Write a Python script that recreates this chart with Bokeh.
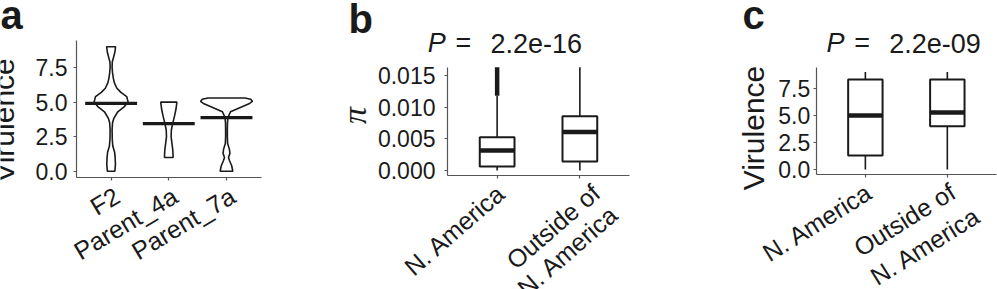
import math
from bokeh.plotting import figure
from bokeh.layouts import row
from bokeh.models import Label, FixedTicker, Range1d, PrintfTickFormatter, CustomJSTickFormatter
from bokeh.embed import file_html
from bokeh.resources import INLINE

# ---------------- data ----------------
a_categories = ["F2", "Parent_4a", "Parent_7a"]
f2_levels = [0.0, 0.5, 1.0, 1.4, 1.8, 2.3, 3.0, 3.5, 3.8, 4.3, 4.65, 5.0, 5.4, 5.7, 6.0, 6.4, 6.7, 7.1, 7.5, 7.9, 8.2, 8.6, 9.0]
f2_half = [0.065, 0.075, 0.07, 0.06, 0.03, 0.02, 0.017, 0.025, 0.045, 0.115, 0.225, 0.295, 0.27, 0.17, 0.10, 0.055, 0.04, 0.025, 0.017, 0.02, 0.04, 0.065, 0.078]
p4a_levels = [1.0, 1.5, 2.0, 2.5, 3.0, 3.5, 4.0, 4.5, 5.0]
p4a_half = [0.075, 0.07, 0.055, 0.04, 0.045, 0.07, 0.10, 0.125, 0.14]
p7a_levels = [0.0, 0.4, 0.8, 1.0, 1.3, 1.6, 2.0, 2.5, 3.0, 3.5, 3.9, 4.3, 4.65, 4.9, 5.05, 5.2, 5.3]
p7a_half = [0.11, 0.09, 0.05, 0.035, 0.06, 0.05, 0.02, 0.015, 0.015, 0.017, 0.026, 0.07, 0.26, 0.40, 0.45, 0.42, 0.32]
a_medians = [4.9, 3.45, 3.88]
a_yticks = [0, 2.5, 5.0, 7.5]

b_categories = ["N. America", "Outside of\nN. America"]
b_whisker_lo = [0.0, 0.0]
b_q1 = [0.00063, 0.00142]
b_median = [0.00315, 0.00605]
b_q3 = [0.00525, 0.00857]
b_whisker_hi = [0.0118, 0.0163]
b_outlier_lo = [0.0118]
b_outlier_hi = [0.0163]
b_yticks = [0.0, 0.005, 0.010, 0.015]
b_pvalue = "2.2e-16"

c_categories = ["N. America", "Outside of\nN. America"]
c_whisker_lo = [0.0, 0.0]
c_q1 = [1.31, 4.0]
c_median = [5.0, 5.27]
c_q3 = [8.32, 8.32]
c_whisker_hi = [9.0, 9.0]
c_yticks = [0, 2.5, 5.0, 7.5]
c_pvalue = "2.2e-09"

# ---------------- style ----------------
FONT = "Liberation Sans"
TXT = "#1a1a1a"
LINE = "#1a1a1a"
AX = "#555555"
H = 289


class Geom:
    """Panel rectangle (in canvas pixels) and the panel's data ranges."""
    def __init__(self, W, left, right, top, bottom, xr, yr):
        self.W, self.left, self.right, self.top, self.bottom = W, left, right, top, bottom
        self.xr, self.yr = xr, yr
        self.fw = W - left - right
        self.fh = H - top - bottom
        self.ppx = self.fw / (xr[1] - xr[0])
        self.ppy = self.fh / (yr[1] - yr[0])
        self.full_x = (xr[0] - left / self.ppx, xr[1] + right / self.ppx)
        self.full_y = (yr[0] - bottom / self.ppy, yr[1] + top / self.ppy)

    def dx(self, cx):
        return self.xr[0] + (cx - self.left) / self.ppx

    def dy(self, cy):
        return self.yr[1] - (cy - self.top) / self.ppy

    def tick_px(self, v):
        return self.left + (v - self.xr[0]) * self.ppx


def make_fig(g, xticks, yticks, yfmt, standoff):
    p = figure(width=g.W, height=H, x_range=Range1d(*g.full_x), y_range=Range1d(*g.full_y),
               output_backend="svg", toolbar_location=None,
               min_border_left=0, min_border_right=0, min_border_top=0, min_border_bottom=0)
    p.xgrid.visible = False
    p.ygrid.visible = False
    p.outline_line_color = None
    p.background_fill_color = "white"
    p.border_fill_color = "white"
    for ax in (p.xaxis[0], p.yaxis[0]):
        ax.axis_line_color = AX
        ax.axis_line_width = 1.2
        ax.major_tick_line_color = AX
        ax.major_tick_line_width = 1.2
        ax.major_tick_out = 3
        ax.major_tick_in = 0
        ax.minor_tick_line_color = None
        ax.major_label_text_font = FONT
        ax.major_label_text_color = TXT
    p.xaxis.fixed_location = g.yr[0]
    p.xaxis.bounds = g.xr
    p.yaxis.fixed_location = g.xr[0]
    p.yaxis.bounds = g.yr
    p.xaxis.ticker = FixedTicker(ticks=xticks)
    p.xaxis.formatter = CustomJSTickFormatter(code="return ''")
    p.yaxis.ticker = FixedTicker(ticks=yticks)
    p.yaxis.formatter = PrintfTickFormatter(format=yfmt)
    p.yaxis.major_label_text_font_size = "23px"
    p.yaxis.major_label_standoff = standoff
    return p


def label(p, g, cx, cy, text, size, angle=0, align="left", baseline="alphabetic",
          style="normal", font=FONT):
    th = math.radians(angle)
    if baseline == "alphabetic":
        # move the anchor so that the drawn baseline lands on (cx, cy)
        k = 0.33 * size
        cx -= k * math.sin(th)
        cy -= k * math.cos(th)
    p.add_layout(Label(x=g.dx(cx), y=g.dy(cy), text=text, text_font=font,
                       text_font_size=f"{size}px", text_font_style=style,
                       text_align=align, text_baseline=baseline,
                       angle=th, text_color=TXT))


def xlabels(p, g, cats, size, angle, gap, dxs, lh, extra2=0):
    th = math.radians(angle)
    for i, cat in enumerate(cats):
        tx = g.tick_px(i + 1)
        for j, line in enumerate(cat.split("\n")):
            ax_ = tx + dxs[i] + j * (lh * math.sin(th) + extra2)
            ay_ = g.top + g.fh + gap + j * lh * math.cos(th)
            label(p, g, ax_, ay_, line, size, angle=angle, align="right", baseline="top")


def title_p(p, g, cx, cy, pval, size):
    label(p, g, cx, cy, "P", size, style="italic")
    label(p, g, cx + 27.7, cy, "=", size)
    label(p, g, cx + 62.7, cy, pval, size)


# ---------------- panel a ----------------
ga = Geom(300, 76, 39.4, 40, 112, (0.4, 3.6), (-0.45, 9.45))
pa = make_fig(ga, [1, 2, 3], a_yticks, "%.1f", 6)

for c, lev, half in zip([1, 2, 3], [f2_levels, p4a_levels, p7a_levels], [f2_half, p4a_half, p7a_half]):
    xs = [c + w for w in half] + [c - w for w in reversed(half)]
    ys = list(lev) + list(reversed(lev))
    pa.patch(xs, ys, fill_color="white", line_color=LINE, line_width=1.6)
pa.segment(x0=[c - 0.45 for c in (1, 2, 3)], x1=[c + 0.45 for c in (1, 2, 3)],
           y0=a_medians, y1=a_medians, line_color=LINE, line_width=3.2)

label(pa, ga, 0, 28, "a", 40, style="bold")
label(pa, ga, 13, 120, "Virulence", 30, angle=90, align="center", baseline="alphabetic")
xlabels(pa, ga, a_categories, 25, 31, 4, [-1, -1, -1], 28)


# ---------------- box helper ----------------
def boxes(p, lo, q1, med, q3, hi, width=0.42):
    xs = [1, 2]
    p.segment(x0=xs, x1=xs, y0=lo, y1=q1, line_color=LINE, line_width=1.6)
    p.segment(x0=xs, x1=xs, y0=q3, y1=hi, line_color=LINE, line_width=1.6)
    p.vbar(x=xs, width=width, bottom=q1, top=q3, fill_color="white",
           line_color=LINE, line_width=2)
    p.segment(x0=[x - width / 2 for x in xs], x1=[x + width / 2 for x in xs],
              y0=med, y1=med, line_color=LINE, line_width=4.5)


# ---------------- panel b ----------------
gb = Geom(380, 147, 51, 66.7, 114, (0.4, 2.6), (-0.0008, 0.0163))
pb = make_fig(gb, [1, 2], b_yticks, "%.3f", 9)
boxes(pb, b_whisker_lo, b_q1, b_median, b_q3, b_whisker_hi)
pb.segment(x0=[1], x1=[1], y0=b_outlier_lo, y1=b_outlier_hi, line_color=LINE, line_width=4.5)

label(pb, gb, 48, 32, "b", 40, style="bold")
label(pb, gb, 65, 115, "π", 34, angle=90, align="center", baseline="alphabetic",
      style="italic", font="Liberation Serif")
title_p(pb, gb, 127.3, 51.7, b_pvalue, 27)
xlabels(pb, gb, b_categories, 25, 41, 3, [-5, 7], 28)

# ---------------- panel c ----------------
gc = Geom(317, 135.7, 1, 66.7, 115, (0.4, 2.6), (-0.45, 9.45))
pc = make_fig(gc, [1, 2], c_yticks, "%.1f", 3)
boxes(pc, c_whisker_lo, c_q1, c_median, c_q3, c_whisker_hi)

label(pc, gc, 62, 28, "c", 40, style="bold")
label(pc, gc, 83, 127.5, "Virulence", 30, angle=90, align="center", baseline="alphabetic")
title_p(pc, gc, 146, 51.7, c_pvalue, 27)
xlabels(pc, gc, c_categories, 25, 32, 3, [-3, -2], 28, extra2=10)

layout = row(pa, pb, pc)
open("out.html", "w").write(file_html(layout, INLINE))
